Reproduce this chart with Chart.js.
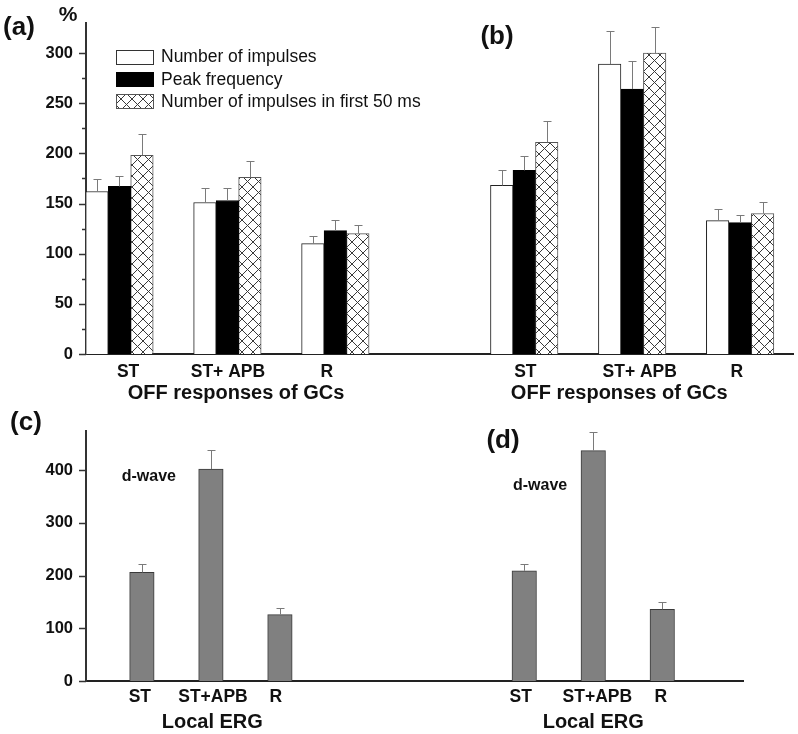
<!DOCTYPE html>
<html><head><meta charset="utf-8">
<script src="https://cdn.jsdelivr.net/npm/chart.js@4/dist/chart.umd.min.js"></script>
<style>
html,body{margin:0;padding:0;background:#fff;}
#wrap{position:relative;width:798px;height:734px;overflow:hidden;}
#top{position:absolute;left:0;top:0;}
#bot{position:absolute;left:0;top:405px;}
</style></head><body>
<div id="wrap">
<canvas id="top" width="798" height="405"></canvas>
<canvas id="bot" width="798" height="329"></canvas>
</div>
<script>
// ---------- data: OFF responses of GCs (panels a, b) ----------
const gcLabels = ['ST', 'ST+ APB', 'R', 'ST', 'ST+ APB', 'R'];
const gcPos = [0.31, 1.31, 2.31, 4.06, 5.06, 6.06];
const gcLabelPos = [0.39, 1.315, 2.23, 4.07, 5.13, 6.03];
const gcTitlePos = [1.39, 4.94];
const seriesNames = ['Number of impulses', 'Peak frequency', 'Number of impulses in first 50 ms'];
const numImpulses = [162, 151, 110, 168, 289, 133];
const numImpulsesErr = [12, 14, 8, 15, 33, 12];
const peakFreq = [167, 153, 123, 183, 264, 131];
const peakFreqErr = [10, 12, 11, 14, 28, 8];
const first50 = [198, 176, 120, 211, 300, 140];
const first50Err = [21, 16, 9, 21, 26, 11];
const gcTicks = [0, 50, 100, 150, 200, 250, 300];

// ---------- data: Local ERG d-wave (panels c, d) ----------
const ergLabels = ['ST', 'ST+APB', 'R', 'ST', 'ST+APB', 'R'];
const ergPos = [0.81, 1.81, 2.81, 6.35, 7.35, 8.35];
const ergLabelPos = [0.78, 1.84, 2.75, 6.30, 7.41, 8.33];
const ergTitlePos = [1.83, 7.35];
const dWave = [206, 402, 126, 209, 437, 136];
const dWaveErr = [15, 37, 13, 13, 35, 14];
const ergTicks = [0, 100, 200, 300, 400];

const FONT = "'Liberation Sans', Arial, Helvetica, sans-serif";
Chart.defaults.font.family = FONT;
Chart.defaults.color = '#111';

function makePattern() {
  const s = 11;
  const c = document.createElement('canvas');
  c.width = s; c.height = s;
  const g = c.getContext('2d');
  g.fillStyle = '#fff'; g.fillRect(0, 0, s, s);
  g.strokeStyle = '#3a3a3a'; g.lineWidth = 1;
  g.beginPath();
  g.moveTo(0, 0); g.lineTo(s, s);
  g.moveTo(s, 0); g.lineTo(0, s);
  g.stroke();
  return g.createPattern(c, 'repeat');
}
const hatch = makePattern();

function xy(pos, vals) { return pos.map((p, i) => ({ x: p, y: vals[i] })); }

const errorBars = {
  id: 'errorBars',
  afterDatasetsDraw(chart) {
    const ctx = chart.ctx, ys = chart.scales.y;
    chart.data.datasets.forEach((ds, di) => {
      if (!ds.errors) return;
      const meta = chart.getDatasetMeta(di);
      meta.data.forEach((bar, i) => {
        const v = ds.data[i].y, e = ds.errors[i];
        const x = Math.round(bar.x) + 0.5;
        const y1 = Math.round(ys.getPixelForValue(v + e)) + 0.5;
        ctx.save();
        ctx.strokeStyle = '#7a7a7a'; ctx.lineWidth = 1;
        ctx.beginPath();
        ctx.moveTo(x, bar.y); ctx.lineTo(x, y1);
        ctx.moveTo(x - 4, y1); ctx.lineTo(x + 4, y1);
        ctx.stroke();
        ctx.restore();
      });
    });
  }
};

const yTickMarks = {
  id: 'yTickMarks',
  afterDraw(chart, args, opts) {
    const ys = chart.scales.y, ctx = chart.ctx, left = chart.chartArea.left;
    ctx.save(); ctx.strokeStyle = '#333'; ctx.lineWidth = 1.5;
    ys.ticks.forEach(t => {
      const v = t.value;
      if (v % opts.minor !== 0 || v > opts.last) return;
      const len = v % opts.major === 0 ? 6 : 3;
      const y = Math.round(ys.getPixelForValue(v)) + 0.5;
      ctx.beginPath(); ctx.moveTo(left - 1 - len, y); ctx.lineTo(left, y); ctx.stroke();
    });
    ctx.restore();
  }
};

const texts = {
  id: 'texts',
  afterDraw(chart, args, opts) {
    const ctx = chart.ctx, xs = chart.scales.x, ys = chart.scales.y, ca = chart.chartArea;
    (opts.items || []).forEach(it => {
      ctx.save();
      ctx.font = it.font; ctx.fillStyle = '#111';
      ctx.textAlign = it.align || 'center'; ctx.textBaseline = 'middle';
      const x = it.xv !== undefined ? xs.getPixelForValue(it.xv) : it.x;
      const y = it.yv !== undefined ? ys.getPixelForValue(it.yv) : (it.below !== undefined ? ca.bottom + it.below : it.y);
      ctx.fillText(it.text, x, y);
      ctx.restore();
    });
    (opts.legend || []).forEach(it => {
      ctx.save();
      const bx = 116.5, bw = 37, bh = 14;
      const by = Math.round(it.y - bh / 2) + 0.5;
      ctx.fillStyle = it.fill; ctx.fillRect(bx, by, bw, bh);
      ctx.strokeStyle = it.stroke; ctx.lineWidth = 1; ctx.strokeRect(bx, by, bw, bh);
      ctx.font = '17.5px ' + FONT; ctx.fillStyle = '#111';
      ctx.textAlign = 'left'; ctx.textBaseline = 'middle';
      ctx.fillText(it.text, 161, it.y + 1);
      ctx.restore();
    });
  }
};

function baseScales(cfg) {
  return {
    x: {
      type: 'linear', min: 0, max: cfg.xmax, offset: false,
      grid: { display: false, drawTicks: false },
      border: { display: true, color: '#222', width: 2 },
      afterBuildTicks: s => { s.ticks = cfg.labelPos.map(v => ({ value: v })); },
      afterFit: s => { s.height = cfg.xh; },
      ticks: {
        autoSkip: false, maxRotation: 0, padding: cfg.xpad,
        font: { size: 17.5, weight: 'bold' }, color: '#111',
        callback: (v, i) => cfg.labels[i]
      }
    },
    y: {
      type: 'linear', min: 0, max: cfg.ymax,
      grid: { display: false, drawTicks: false },
      border: { display: true, color: '#333', width: 2 },
      afterFit: s => { s.width = 86; },
      afterBuildTicks: cfg.yBuild,
      ticks: {
        padding: 13, color: '#111',
        font: cfg.yFont,
        callback: cfg.yLabel
      }
    }
  };
}

// ---------- top chart ----------
new Chart(document.getElementById('top'), {
  type: 'bar',
  data: {
    datasets: [
      { label: seriesNames[0], data: xy(gcPos, numImpulses), errors: numImpulsesErr,
        backgroundColor: '#fff', borderColor: '#222', borderWidth: 1, barThickness: 22.5 },
      { label: seriesNames[1], data: xy(gcPos, peakFreq), errors: peakFreqErr,
        backgroundColor: '#000', borderColor: '#000', borderWidth: 1, barThickness: 22.5 },
      { label: seriesNames[2], data: xy(gcPos, first50), errors: first50Err,
        backgroundColor: hatch, borderColor: '#555', borderWidth: 1, barThickness: 22.5 }
    ]
  },
  options: {
    responsive: false, animation: false,
    layout: { padding: { left: 0, top: 20, right: 5, bottom: 0 } },
    scales: baseScales({
      xmax: 6.55, labelPos: gcLabelPos, labels: gcLabels, xh: 51, xpad: 8, ymax: 330,
      yBuild: s => { s.ticks = gcTicks.concat([25, 75, 125, 175, 225, 275]).sort((a, b) => a - b).map(v => ({ value: v })); },
      yFont: { size: 16.5, weight: 'bold' },
      yLabel: v => (gcTicks.includes(v) ? String(v) : '')
    }),
    plugins: {
      legend: { display: false }, tooltip: { enabled: false },
      yTickMarks: { minor: 25, major: 50, last: 300 },
      texts: {
        items: [
          { text: '(a)', font: 'bold 26px ' + FONT, x: 19, y: 28 },
          { text: '(b)', font: 'bold 26px ' + FONT, x: 497, y: 37 },
          { text: '%', font: 'bold 21px ' + FONT, x: 68, y: 15 },
          { text: 'OFF responses of GCs', font: 'bold 20px ' + FONT, xv: gcTitlePos[0], below: 39 },
          { text: 'OFF responses of GCs', font: 'bold 20px ' + FONT, xv: gcTitlePos[1], below: 39 }
        ],
        legend: [
          { text: seriesNames[0], fill: '#fff', stroke: '#333', y: 56.5 },
          { text: seriesNames[1], fill: '#000', stroke: '#000', y: 79 },
          { text: seriesNames[2], fill: hatch, stroke: '#555', y: 101 }
        ]
      }
    }
  },
  plugins: [errorBars, yTickMarks, texts]
});

// ---------- bottom chart ----------
new Chart(document.getElementById('bot'), {
  type: 'bar',
  data: {
    datasets: [
      { label: 'd-wave', data: xy(ergPos, dWave), errors: dWaveErr,
        backgroundColor: '#808080', borderColor: '#3a3a3a', borderWidth: 1, barThickness: 24.5 }
    ]
  },
  options: {
    responsive: false, animation: false,
    layout: { padding: { left: 0, top: 22, right: 55, bottom: 0 } },
    scales: baseScales({
      xmax: 9.52, labelPos: ergLabelPos, labels: ergLabels, xh: 53, xpad: 6, ymax: 475,
      yBuild: s => { s.ticks = [0, 50, 100, 150, 200, 250, 300, 350, 400, 450].map(v => ({ value: v })); },
      yFont: ctx => (ctx.tick && ctx.tick.value === 450 ? { size: 21, weight: 'bold' } : { size: 16.5, weight: 'bold' }),
      yLabel: v => (v === 450 ? '%' : (ergTicks.includes(v) ? String(v) : ''))
    }),
    plugins: {
      legend: { display: false }, tooltip: { enabled: false },
      yTickMarks: { minor: 50, major: 100, last: 450 },
      texts: {
        items: [
          { text: '(c)', font: 'bold 26px ' + FONT, x: 26, y: 18 },
          { text: '(d)', font: 'bold 26px ' + FONT, x: 503, y: 36 },
          { text: 'd-wave', font: 'bold 16px ' + FONT, xv: 0.91, yv: 387 },
          { text: 'd-wave', font: 'bold 16px ' + FONT, xv: 6.58, yv: 371 },
          { text: 'Local ERG', font: 'bold 20px ' + FONT, xv: ergTitlePos[0], below: 41 },
          { text: 'Local ERG', font: 'bold 20px ' + FONT, xv: ergTitlePos[1], below: 41 }
        ]
      }
    }
  },
  plugins: [errorBars, yTickMarks, texts]
});
</script>
</body></html>
